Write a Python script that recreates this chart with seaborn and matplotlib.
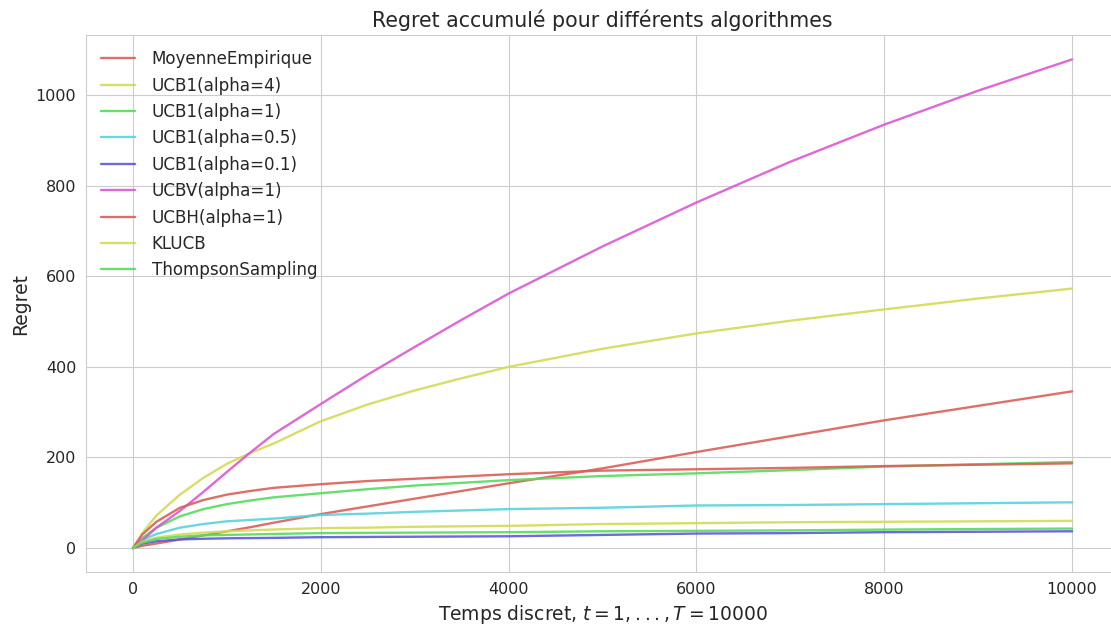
import matplotlib
matplotlib.use("Agg")
import matplotlib.pyplot as plt
import seaborn as sns

# Time steps at which the cumulative regret was recorded
t = [0, 100, 250, 500, 750, 1000, 1250, 1500, 2000, 2500, 3000, 3500, 4000,
     5000, 6000, 7000, 8000, 9000, 10000]

# Cumulative regret of each algorithm
moyenne_empirique = [0, 5, 10, 19, 28, 37, 46, 56, 75, 92, 109, 126, 143,
                     176, 212, 247, 282, 314, 346]
ucb1_alpha4 = [0, 33, 72, 118, 155, 186, 210, 231, 280, 317, 348, 375, 400,
               440, 474, 502, 527, 551, 573]
ucb1_alpha1 = [0, 22, 45, 70, 86, 97, 105, 112, 121, 130, 138, 144, 150,
               159, 165, 172, 180, 185, 190]
ucb1_alpha05 = [0, 18, 31, 45, 53, 59, 62, 65, 73, 76, 80, 83, 86,
                89, 94, 95, 97, 99, 101]
ucb1_alpha01 = [0, 10, 15, 19, 20.5, 21.5, 22, 22.5, 24, 24.5, 25, 25.5, 26,
                29, 32, 33, 35, 36, 37]
ucbv_alpha1 = [0, 17, 45, 82, 124, 168, 211, 252, 318, 383, 444, 504, 562,
               666, 763, 853, 935, 1010, 1079]
ucbh_alpha1 = [0, 30, 58, 89, 106, 118, 126, 133, 141, 148, 153, 158, 163,
               171, 174, 177, 181, 184, 187]
klucb = [0, 14, 23, 30, 34, 37, 39, 41, 44, 45, 47, 48, 49,
         53, 55, 57, 58, 59, 60]
thompson = [0, 12, 20, 25, 28, 29, 30, 31, 33, 33.5, 34, 34.5, 35,
            37, 38, 39, 40.7, 42, 43]

labels = ["MoyenneEmpirique", "UCB1(alpha=4)", "UCB1(alpha=1)",
          "UCB1(alpha=0.5)", "UCB1(alpha=0.1)", "UCBV(alpha=1)",
          "UCBH(alpha=1)", "KLUCB", "ThompsonSampling"]
series = [moyenne_empirique, ucb1_alpha4, ucb1_alpha1, ucb1_alpha05,
          ucb1_alpha01, ucbv_alpha1, ucbh_alpha1, klucb, thompson]

sns.set_style("whitegrid")
plt.rcParams["font.family"] = ["DejaVu Sans"]

palette = sns.color_palette("hls", 6)

fig = plt.figure(figsize=(11.11, 6.26), dpi=100)
ax = fig.add_axes([0.0774, 0.0855, 0.9298, 0.8586])

for i, (name, vals) in enumerate(zip(labels, series)):
    sns.lineplot(x=t, y=vals, label=name, color=palette[i % 6],
                 linewidth=1.7, alpha=0.9, ax=ax)

ax.set_title("Regret accumulé pour différents algorithmes",
             fontsize=14.8, color=".15")
ax.set_xlabel(r"Temps discret, $t = 1, ..., T = 10000$", fontsize=13.5, color=".15")
ax.set_ylabel("Regret", fontsize=13.5, color=".15")
ax.tick_params(labelsize=11.5, colors=".15")
ax.set_xticks([0, 2000, 4000, 6000, 8000, 10000])
ax.set_yticks([0, 200, 400, 600, 800, 1000])
ax.legend(loc="upper left", fontsize=12.1, frameon=False,
          labelspacing=0.5, handletextpad=1.0)

fig.savefig("out.png", dpi=100)
